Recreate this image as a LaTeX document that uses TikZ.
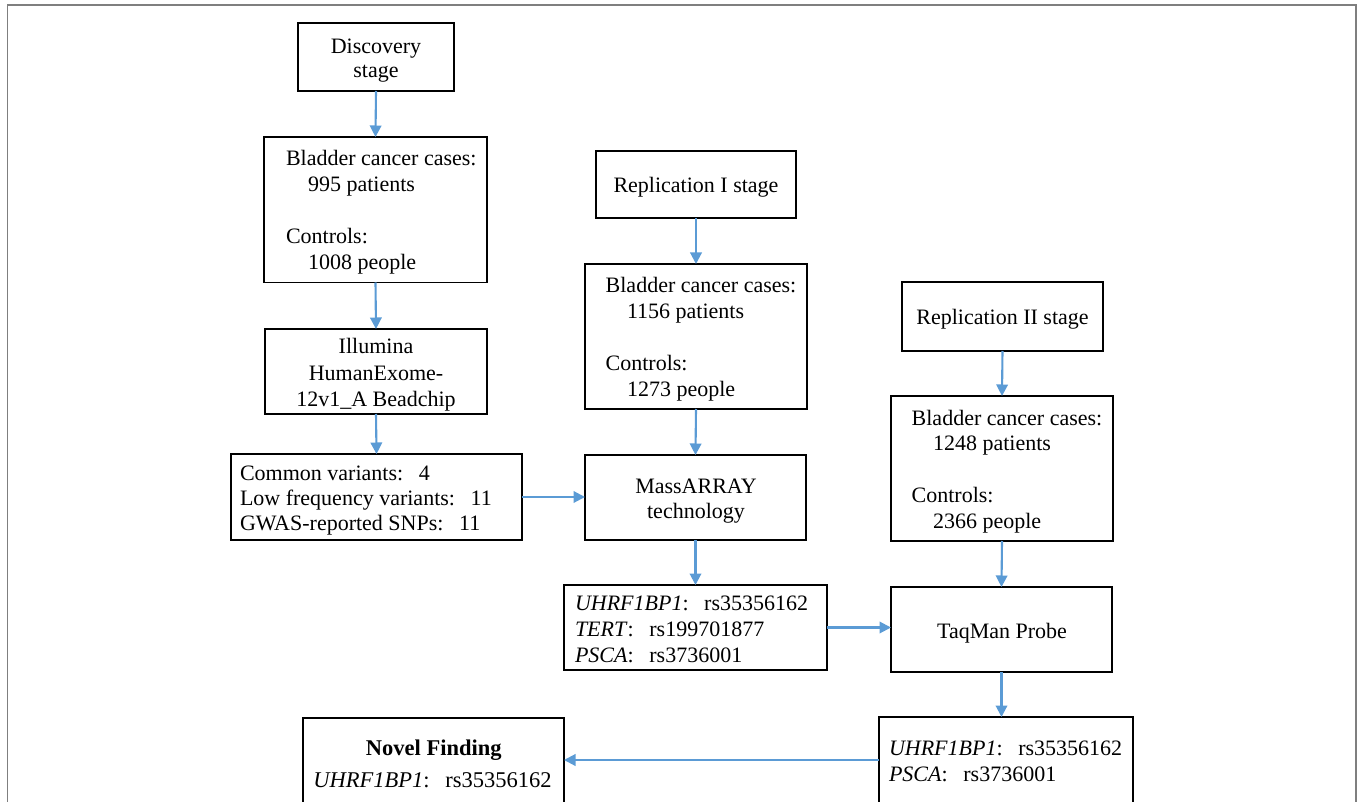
\documentclass[tikz,border=0pt]{standalone}
\usepackage{fontspec}
\setmainfont{Liberation Serif}
\usetikzlibrary{arrows.meta,calc}
\newcommand{\cc}{\textup{:}\hspace{0.71em}}
\definecolor{arrowblue}{HTML}{5B9BD5}
\definecolor{framegray}{HTML}{7F7F7F}
\tikzset{
  box/.style={draw=black, line width=1.9pt, inner sep=0pt, outer sep=0pt, fill=none},
  txt/.style={inner sep=0pt, outer sep=0pt, font=\fontsize{22pt}{26pt}\selectfont},
  bigtxt/.style={inner sep=0pt, outer sep=0pt, font=\fontsize{22.5pt}{27pt}\selectfont},
  flow/.style={draw=arrowblue, line width=2.1pt, -{Triangle[width=11.5pt,length=11.5pt]}},
}
\begin{document}
\begin{tikzpicture}[x=1pt,y=-1pt]
\useasboundingbox (0,0) rectangle (1358,802);
\clip (0,0) rectangle (1358,802);
% outer frame
\draw[framegray, line width=1.6pt] (7.5,810) -- (7.5,5) -- (1356,5) -- (1356,810);

% boxes
\node[box, minimum width=156pt, minimum height=68pt] (disc) at (376,57) {};
\node[box, minimum width=223pt, minimum height=145.5pt] (b1) at (375.5,209.75) {};
\node[box, minimum width=222pt, minimum height=85pt] (ill) at (376,371.5) {};
\node[box, minimum width=291pt, minimum height=86pt] (com) at (376.5,497) {};
\node[box, minimum width=200pt, minimum height=67pt] (rep1) at (696,184.5) {};
\node[box, minimum width=222pt, minimum height=145pt] (b2) at (696,336.5) {};
\node[box, minimum width=221pt, minimum height=85pt] (mass) at (695.5,497.5) {};
\node[box, minimum width=263pt, minimum height=85pt] (uhrf) at (695.5,627.5) {};
\node[box, minimum width=201pt, minimum height=69pt] (rep2) at (1002.5,316.5) {};
\node[box, minimum width=222pt, minimum height=145pt] (b3) at (1002,468.5) {};
\node[box, minimum width=221pt, minimum height=85pt] (taq) at (1001.5,629.5) {};
\node[box, minimum width=254pt, minimum height=86pt] (fin) at (1006,760) {};
\node[box, minimum width=261pt, minimum height=85pt] (novel) at (433.5,760.5) {};

% texts
\node[txt, anchor=base] (disc1) at (376,53.3) {Discovery};
\node[txt, anchor=base] (disc2) at (376,77.3) {stage};

\node[txt, anchor=base west] (b1a) at (286,166) {Bladder cancer cases\cc};
\node[txt, anchor=base west] (b1b) at (308,191.7) {995 patients};
\node[txt, anchor=base west] (b1c) at (286,243.3) {Controls\cc};
\node[txt, anchor=base west] (b1d) at (308,269.3) {1008 people};

\node[txt, anchor=base] (ill1) at (376,354) {Illumina};
\node[txt, anchor=base] (ill2) at (376,380.7) {HumanExome-};
\node[txt, anchor=base] (ill3) at (376,406.7) {12v1\_A Beadchip};

\node[txt, anchor=base west] (com1) at (240,480) {Common variants\cc 4};
\node[txt, anchor=base west] (com2) at (240,505) {Low frequency variants\cc 11};
\node[txt, anchor=base west] (com3) at (240,530.7) {GWAS-reported SNPs\cc 11};

\node[txt, anchor=base] (rep1t) at (696,192.7) {Replication I stage};

\node[txt, anchor=base west] (b2a) at (605.7,292.7) {Bladder cancer cases\cc};
\node[txt, anchor=base west] (b2b) at (627,318.3) {1156 patients};
\node[txt, anchor=base west] (b2c) at (605.7,370.7) {Controls\cc};
\node[txt, anchor=base west] (b2d) at (627,396.7) {1273 people};

\node[txt, anchor=base] (mass1) at (696,493.3) {MassARRAY};
\node[txt, anchor=base] (mass2) at (696,518.3) {technology};

\node[txt, anchor=base west] (uhrf1) at (575,610.7) {\textit{UHRF1BP1}\cc rs35356162};
\node[txt, anchor=base west] (uhrf2) at (575,636) {\textit{TERT}\cc rs199701877};
\node[txt, anchor=base west] (uhrf3) at (575,662) {\textit{PSCA}\cc rs3736001};

\node[txt, anchor=base] (rep2t) at (1002.5,325) {Replication II stage};

\node[txt, anchor=base west] (b3a) at (911.7,425) {Bladder cancer cases\cc};
\node[txt, anchor=base west] (b3b) at (933,450) {1248 patients};
\node[txt, anchor=base west] (b3c) at (911.7,502.7) {Controls\cc};
\node[txt, anchor=base west] (b3d) at (933,528) {2366 people};

\node[txt, anchor=base] (taq1) at (1002,638.3) {TaqMan Probe};

\node[txt, anchor=base west] (fin1) at (889,755) {\textit{UHRF1BP1}\cc rs35356162};
\node[txt, anchor=base west] (fin2) at (889,781.7) {\textit{PSCA}\cc rs3736001};

\node[bigtxt, anchor=base] (nov1) at (433.8,755) {\textbf{Novel Finding}};
\node[bigtxt, anchor=base] (nov2) at (432.5,787.3) {\textit{UHRF1BP1}\cc rs35356162};

% connectors
\draw[flow] (disc.south) -- (b1.north);
\draw[flow] (b1.south) -- (ill.north);
\draw[flow] (ill.south) -- (com.north);
\draw[flow] (com.east) -- (com.east -| mass.west);
\draw[flow] (rep1.south) -- (b2.north);
\draw[flow] (b2.south) -- (mass.north);
\draw[flow] (mass.south) -- (uhrf.north);
\draw[flow] (uhrf.east) -- (uhrf.east -| taq.west);
\draw[flow] (rep2.south) -- (b3.north);
\draw[flow] (b3.south) -- (taq.north);
\draw[flow] (taq.south) -- (taq.south |- fin.north);
\draw[flow] (fin.west) -- (fin.west -| novel.east);
\end{tikzpicture}
\end{document}
